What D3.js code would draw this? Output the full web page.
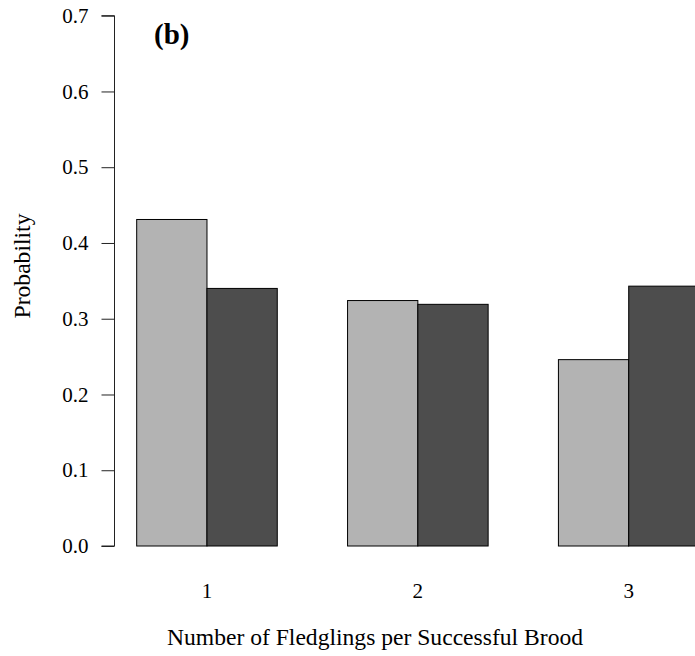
<!DOCTYPE html>
<meta charset="utf-8">
<script src="https://d3js.org/d3.v7.min.js"></script>
<style>
  body { margin: 0; background: #fff; }
  text { font-family: "Liberation Serif", "Times New Roman", serif; }
</style>
<div id="my_dataviz"></div>
<script>

// data
var groups = ["1", "2", "3"];
var lightVals = [0.431, 0.324, 0.246];
var darkVals = [0.340, 0.319, 0.343];
var yTicks = [0, 0.1, 0.2, 0.3, 0.4, 0.5, 0.6, 0.7];

var width = 695, height = 656;

var svg = d3.select("#my_dataviz")
  .append("svg")
    .attr("width", width)
    .attr("height", height);

// R barplot style: bar width 1, groups start at 1, 4, 7
var x = d3.scaleLinear()
  .domain([0, 9])
  .range([66.4, 699]);

var y = d3.scaleLinear()
  .domain([0, 0.7])
  .range([546, 15.7]);

// Y axis
var yAxis = svg.append("g")
  .attr("transform", "translate(114.5,0)")
  .call(d3.axisLeft(y)
    .tickValues(yTicks)
    .tickSize(13)
    .tickPadding(13)
    .tickFormat(d3.format(".1f")));
yAxis.select(".domain").attr("stroke", "#222").attr("d", "M-13," + y(0) + "H0V" + y(0.7) + "H-13");
yAxis.selectAll("line").attr("stroke", "#222");
yAxis.selectAll("text")
  .style("font-size", "21px")
  .attr("fill", "#000");

// bars
var bars = [];
groups.forEach(function(g, i) {
  bars.push({x0: 1 + 3 * i, v: lightVals[i], fill: "#b3b3b3"});
  bars.push({x0: 2 + 3 * i, v: darkVals[i], fill: "#4d4d4d"});
});

svg.selectAll("mybar")
  .data(bars)
  .enter()
  .append("rect")
    .attr("x", function(d) { return x(d.x0); })
    .attr("y", function(d) { return y(d.v); })
    .attr("width", function(d) { return x(d.x0 + 1) - x(d.x0); })
    .attr("height", function(d) { return y(0) - y(d.v); })
    .attr("fill", function(d) { return d.fill; })
    .attr("stroke", "#000")
    .attr("stroke-width", 1);

// group labels
svg.selectAll("glabel")
  .data(groups)
  .enter()
  .append("text")
    .attr("x", function(d, i) { return x(2 + 3 * i); })
    .attr("y", 598)
    .attr("text-anchor", "middle")
    .style("font-size", "21px")
    .text(function(d) { return d; });

// axis titles
svg.append("text")
  .attr("x", 375)
  .attr("y", 645)
  .attr("text-anchor", "middle")
  .style("font-size", "23.6px")
  .text("Number of Fledglings per Successful Brood");

svg.append("text")
  .attr("transform", "translate(30,266) rotate(-90)")
  .attr("text-anchor", "middle")
  .style("font-size", "23.6px")
  .text("Probability");

svg.append("text")
  .attr("x", 154)
  .attr("y", 44)
  .style("font-size", "29px")
  .style("font-weight", "bold")
  .text("(b)");

</script>
